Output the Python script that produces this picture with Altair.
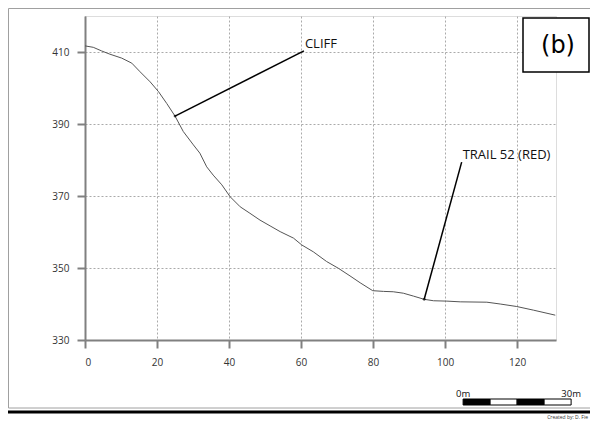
import altair as alt
import pandas as pd

# ---- data ----
dist = [0, 2.3, 4.6, 6.9, 10.2, 13.0, 15.3, 18.1, 20.4, 22.7, 25.0, 27.3, 30.1, 31.9, 33.8,
        35.6, 38.0, 40.3, 43.1, 45.8, 48.6, 51.4, 54.2, 57.9, 60.2, 63.4, 67.1, 70.4, 73.6,
        76.4, 79.9, 82.9, 85.6, 88.4, 91.2, 94.2, 96.8, 100.5, 104.2, 111.6, 115.3, 119.9,
        124.5, 130.6]
elev = [411.7, 411.3, 410.3, 409.4, 408.3, 406.9, 404.5, 401.7, 399.0, 395.7, 392.2, 387.9,
        384.2, 381.9, 378.1, 375.8, 373.1, 369.8, 367.0, 365.2, 363.3, 361.7, 360.1, 358.3,
        356.4, 354.5, 351.8, 349.9, 347.8, 345.9, 343.7, 343.5, 343.4, 343.0, 342.2, 341.3,
        340.9, 340.8, 340.6, 340.5, 340.0, 339.3, 338.3, 336.9]

x_ticks = [0, 20, 40, 60, 80, 100, 120]
y_ticks = [330, 350, 370, 390, 410]

ann_labels = ["CLIFF", "TRAIL 52 (RED)"]
ann_anchor_x = [25.0, 94.2]
ann_anchor_y = [392.2, 341.3]
ann_label_x = [60.8, 104.6]
ann_label_y = [410.3, 379.4]

scale_start = 105
scale_length = 30
scale_parts = 4
scale_labels = ["0m", "30m"]

panel_label = "(b)"
credit = "Created by: D. Fie"

FONT = "Open Sans"

profile = pd.DataFrame({"dist": dist, "elev": elev})
ann = pd.DataFrame({"label": ann_labels, "ax": ann_anchor_x, "ay": ann_anchor_y,
                    "lx": ann_label_x, "ly": ann_label_y})
step = scale_length / scale_parts
segs = pd.DataFrame({"s": [scale_start + i * step for i in range(scale_parts)],
                     "e": [scale_start + (i + 1) * step for i in range(scale_parts)],
                     "k": [str(i % 2) for i in range(scale_parts)]})
slabels = pd.DataFrame({"x": [scale_start, scale_start + scale_length], "t": scale_labels})
one = pd.DataFrame({"a": [0]})

xscale = alt.Scale(domain=[0, 130.8], nice=False, zero=False)
yscale = alt.Scale(domain=[330, 420], nice=False, zero=False)

axis_common = dict(grid=True, gridColor="#aaaaaa", gridDash=[2, 2], gridWidth=1,
                   domainColor="#808080", domainWidth=2, tickColor="#808080", tickWidth=2,
                   tickSize=8, labelFont=FONT, labelFontSize=10, labelColor="#333",
                   title=None)

# frame & decorations (pixel positions relative to plot origin)
frame = alt.Chart(one).mark_rect(filled=False, stroke="#a0a0a0", strokeWidth=1).encode(
    x=alt.value(-76.5), x2=alt.value(520), y=alt.value(-7.5), y2=alt.value(392))
band = alt.Chart(one).mark_rect(fill="black").encode(
    x=alt.value(-77), x2=alt.value(520), y=alt.value(394.5), y2=alt.value(397.5))

line = alt.Chart(profile).mark_line(color="#555555", strokeWidth=1).encode(
    x=alt.X("dist:Q", scale=xscale, axis=alt.Axis(values=x_ticks, labelPadding=9, **axis_common)),
    y=alt.Y("elev:Q", scale=yscale, axis=alt.Axis(values=y_ticks, labelPadding=8, **axis_common)),
)

leaders = alt.Chart(ann).mark_rule(color="black", strokeWidth=1.5).encode(
    x="ax:Q", y="ay:Q", x2="lx:Q", y2="ly:Q")
dots = alt.Chart(ann).mark_point(filled=True, color="black", size=8).encode(x="ax:Q", y="ay:Q")
texts = alt.Chart(ann).mark_text(align="left", baseline="alphabetic", dx=1, dy=-3,
                                 font=FONT, fontSize=13, color="#111").encode(
    x="lx:Q", y="ly:Q", text="label:N")

bar = alt.Chart(segs).mark_rect(stroke="black", strokeWidth=1).encode(
    x="s:Q", x2="e:Q", y=alt.value(383), y2=alt.value(389),
    fill=alt.Fill("k:N", scale=alt.Scale(domain=["0", "1"], range=["black", "white"]), legend=None))
bar_text = alt.Chart(slabels).mark_text(align="center", baseline="alphabetic", font=FONT,
                                        fontSize=9.5, color="#111").encode(
    x="x:Q", y=alt.value(381), text="t:N")

box = alt.Chart(one).mark_rect(fill="white", stroke="black", strokeWidth=1.5).encode(
    x=alt.value(438), x2=alt.value(504), y=alt.value(2), y2=alt.value(56))
box_text = alt.Chart(one).mark_text(align="center", baseline="middle", font="DejaVu Sans",
                                    fontSize=24, color="black").encode(
    x=alt.value(473), y=alt.value(30), text=alt.value(panel_label))
credit_text = alt.Chart(one).mark_text(align="right", baseline="alphabetic", font=FONT,
                                       fontSize=5, color="#333").encode(
    x=alt.value(503), y=alt.value(403), text=alt.value(credit))

chart = alt.layer(frame, band, line, leaders, dots, texts, bar, bar_text, box, box_text,
                  credit_text).properties(
    width=471, height=324,
    autosize=alt.AutoSizeParams(type="none"),
    padding={"left": 77, "top": 8, "right": 34, "bottom": 80},
).configure_view(stroke=None).configure(background="white")

chart.save("out.html", embed_options={"renderer": "svg", "actions": False})
